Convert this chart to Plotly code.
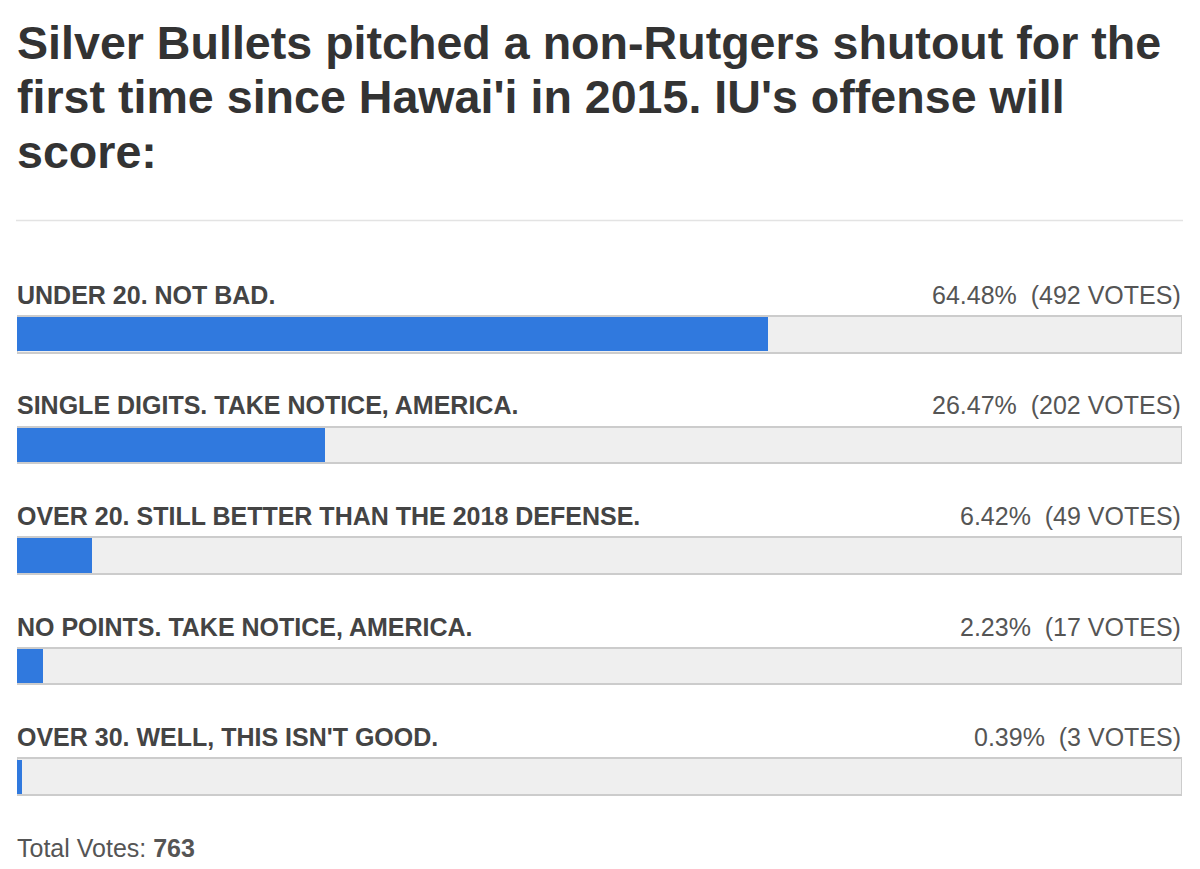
import plotly.graph_objects as go

# ---- data ----
categories = [
    "UNDER 20. NOT BAD.",
    "SINGLE DIGITS. TAKE NOTICE, AMERICA.",
    "OVER 20. STILL BETTER THAN THE 2018 DEFENSE.",
    "NO POINTS. TAKE NOTICE, AMERICA.",
    "OVER 30. WELL, THIS ISN'T GOOD.",
]
percents = [64.48, 26.47, 6.42, 2.23, 0.39]
votes = [492, 202, 49, 17, 3]
total_votes = 763
full_scale = [100, 100, 100, 100, 100]
title_lines = [
    "Silver Bullets pitched a non-Rutgers shutout for the",
    "first time since Hawai'i in 2015. IU's offense will",
    "score:",
]

# ---- layout geometry (page body has an 8px default margin) ----
OFF = 8
W, H = 1184, 853
L = 17 - OFF
R = W - (1182 - OFF)
T = 279 - OFF
B = H - (832.4 - OFF)
plot_h = H - T - B
plot_w = W - L - R


def py(px):
    """absolute page pixel y (from top) -> paper y"""
    return (H - B - (px - OFF)) / plot_h


FONT = "Liberation Sans, Arial, Helvetica, sans-serif"

fig = go.Figure()
fig.add_trace(go.Bar(
    y=categories, x=full_scale, orientation="h", width=0.33,
    marker=dict(color="#efefef", line=dict(color="#cccccc", width=2)),
    hoverinfo="skip", showlegend=False,
))
fig.add_trace(go.Bar(
    y=categories, x=percents, orientation="h", width=0.31,
    marker=dict(color="#3079de", line=dict(width=0)),
    hoverinfo="skip", showlegend=False,
))

annotations = []
title_centers = [43, 97, 152]
for line, cy in zip(title_lines, title_centers):
    annotations.append(dict(
        text=f"<b>{line}</b>", xref="paper", yref="paper",
        x=0, y=py(cy), xanchor="left", yanchor="middle", xshift=-2,
        showarrow=False, align="left",
        font=dict(family=FONT, size=46.6, color="#333333"),
    ))
for cat, p, v in zip(categories, percents, votes):
    annotations.append(dict(
        text=f"<b>{cat}</b>", xref="paper", yref="y", x=0, y=cat,
        xanchor="left", yanchor="middle", yshift=39.5, xshift=-2,
        showarrow=False, font=dict(family=FONT, size=25, color="#444444"),
    ))
    annotations.append(dict(
        text=f"{p:.2f}%  ({v} VOTES)", xref="paper", yref="y", x=1, y=cat,
        xanchor="right", yanchor="middle", yshift=39.5, xshift=1,
        showarrow=False, font=dict(family=FONT, size=25, color="#555555"),
    ))
annotations.append(dict(
    text=f"Total Votes: <b>{total_votes}</b>", xref="paper", yref="paper",
    x=0, y=py(848), xanchor="left", yanchor="middle", xshift=-2,
    showarrow=False, font=dict(family=FONT, size=25, color="#555555"),
))

fig.update_layout(
    width=W, height=H,
    margin=dict(l=L, r=R, t=T, b=B, pad=0),
    paper_bgcolor="white", plot_bgcolor="white",
    barmode="overlay", bargap=0,
    xaxis=dict(range=[0, 100], visible=False, fixedrange=True),
    yaxis=dict(type="category", categoryorder="array", categoryarray=categories,
               range=[4.5, -0.5], visible=False, fixedrange=True),
    annotations=annotations,
    shapes=[dict(type="line", xref="paper", yref="paper",
                 x0=-1 / plot_w, x1=1 + 1 / plot_w, y0=py(220.5), y1=py(220.5),
                 line=dict(color="#e3e3e3", width=1.5))],
)

fig.write_html("out.html", config={"displayModeBar": False})
